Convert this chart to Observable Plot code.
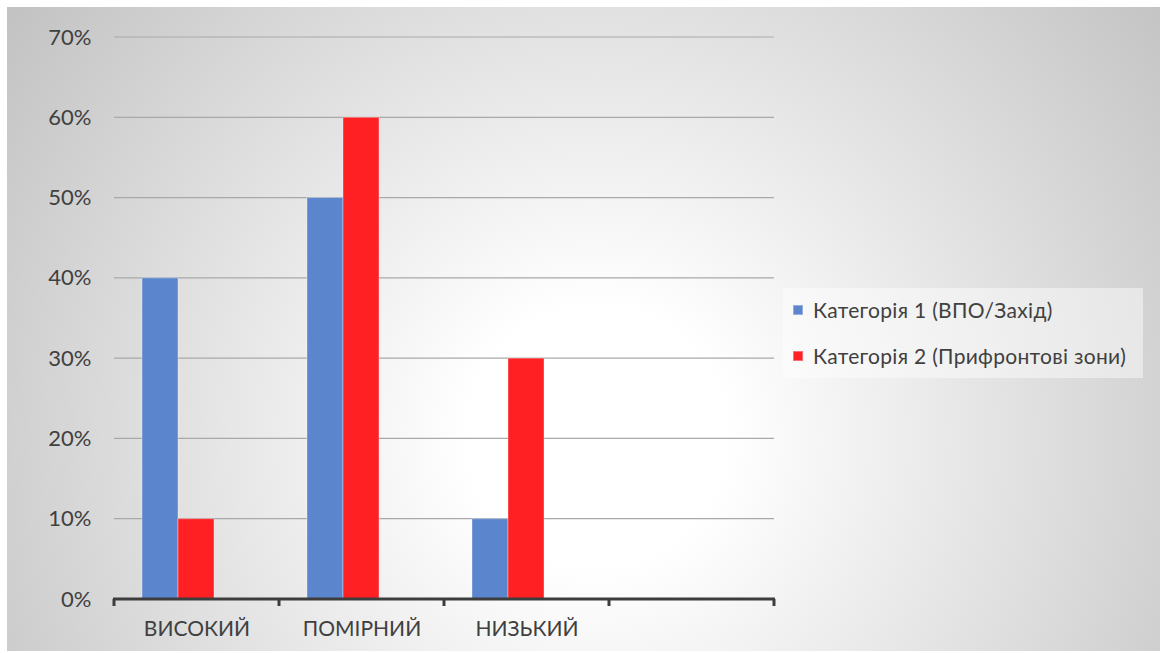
<!DOCTYPE html>
<html>
<head>
<meta charset="utf-8">
<script src="https://cdn.jsdelivr.net/npm/d3@7"></script>
<script src="https://cdn.jsdelivr.net/npm/@observablehq/plot@0.6"></script>
<style>
  html, body { margin: 0; padding: 0; background: #fff; }
  #page { position: relative; width: 1160px; height: 653px; overflow: hidden; }
  #panel {
    position: absolute; left: 7px; top: 7px; width: 1153px; height: 644px;
    background: radial-gradient(circle 720px at 590px 430px, #ffffff 0%, #ffffff 18%, #c3c3c3 100%);
  }
  #chart { position: absolute; left: 0; top: 0; }
  #legend {
    position: absolute; left: 783px; top: 288px; width: 360px; height: 90px;
    background: rgba(255, 255, 255, 0.45);
    font-family: Lato, "Open Sans", sans-serif; font-size: 21px; letter-spacing: 0.3px; color: #404040;
  }
  #legend .item { position: absolute; left: 10px; display: flex; align-items: center; white-space: nowrap; }
  #legend .swatch { width: 10px; height: 10px; margin-right: 10px; box-sizing: border-box; }
</style>
</head>
<body>
<div id="page">
  <div id="panel"></div>
  <div id="chart"></div>
  <div id="legend"></div>
</div>
<script>
// Levels on the horizontal axis (the last slot is left empty)
const categories = ["ВИСОКИЙ", "ПОМІРНИЙ", "НИЗЬКИЙ", ""];
// The two compared groups
const seriesNames = ["Категорія 1 (ВПО/Захід)", "Категорія 2 (Прифронтові зони)"];
const seriesColors = ["#5b86cd", "#ff2024"];
// Shares per level
const values1 = [0.40, 0.50, 0.10];
const values2 = [0.10, 0.60, 0.30];
// Vertical axis ticks
const yTicks = [0, 0.1, 0.2, 0.3, 0.4, 0.5, 0.6, 0.7];

const rows = [];
values1.forEach((v, i) => rows.push({category: categories[i], series: seriesNames[0], value: v}));
values2.forEach((v, i) => rows.push({category: categories[i], series: seriesNames[1], value: v}));

const font = "Lato, 'Open Sans', sans-serif";

const plot = Plot.plot({
  width: 1160,
  height: 653,
  marginLeft: 113,
  marginRight: 385,
  marginTop: 37,
  marginBottom: 54,
  style: {background: "transparent", fontFamily: font, color: "#404040", overflow: "visible"},
  fx: {domain: categories, padding: 0, label: null},
  x: {domain: seriesNames, paddingInner: 0, paddingOuter: 1.25, align: 0.3, axis: null},
  y: {domain: [0, 0.7], label: null},
  color: {domain: seriesNames, range: seriesColors},
  marks: [
    Plot.axisY(yTicks, {tickFormat: d3.format(".0%"), tickSize: 0, tickPadding: 23, fontSize: 22, fill: "#404040", label: null}),
    Plot.axisFx({anchor: "bottom", tickSize: 0, tickPadding: 22, fontSize: 21, fill: "#404040", label: null}),
    Plot.barY(rows, {fx: "category", x: "series", y: "value", fill: "series",
      stroke: "#ffffff", strokeOpacity: 0.35, strokeWidth: 1})
  ]
});
document.getElementById("chart").appendChild(plot);

// Gridlines, baseline and slot-boundary ticks across all four slots, placed with the plot's own scales
const fx = plot.scale("fx");
const y = plot.scale("y");
const svg = d3.select(plot);
const x0 = fx.apply(categories[0]);
const x1 = fx.apply(categories[categories.length - 1]) + fx.bandwidth;
const y0 = y.apply(0);

const grid = svg.insert("g", ":first-child").attr("stroke", "#a9a9a9").attr("stroke-width", 1.2);
yTicks.filter(t => t > 0).forEach(t => {
  grid.append("line").attr("x1", x0).attr("x2", x1).attr("y1", y.apply(t)).attr("y2", y.apply(t));
});

const g = svg.append("g").attr("stroke", "#3d3d3d");
g.append("line").attr("x1", x0 - 1).attr("x2", x1 + 1).attr("y1", y0).attr("y2", y0).attr("stroke-width", 3);
const bounds = categories.map(c => fx.apply(c)).concat([x1]);
bounds.forEach(b => {
  g.append("line").attr("x1", b).attr("x2", b).attr("y1", y0).attr("y2", y0 + 7).attr("stroke-width", 3);
});

// Legend
const legend = document.getElementById("legend");
seriesNames.forEach((name, i) => {
  const item = document.createElement("div");
  item.className = "item";
  item.style.top = (i === 0 ? 9 : 55) + "px";
  const sw = document.createElement("span");
  sw.className = "swatch";
  sw.style.background = seriesColors[i];
  sw.style.border = "1px solid rgba(255,255,255,0.35)";
  const label = document.createElement("span");
  label.textContent = name;
  item.appendChild(sw);
  item.appendChild(label);
  legend.appendChild(item);
});
</script>
</body>
</html>
